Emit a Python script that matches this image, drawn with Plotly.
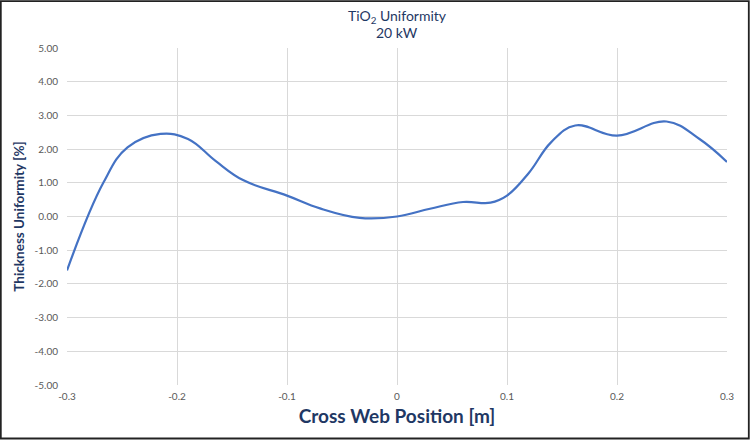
import plotly.graph_objects as go

# Values
x_pos = [-0.300, -0.267, -0.245, -0.215, -0.190, -0.165, -0.140, -0.100, -0.070,
         -0.034, 0.000, 0.030, 0.060, 0.085, 0.100, 0.120, 0.140, 0.162, 0.200,
         0.245, 0.275, 0.300]
uniformity = [-1.60, 1.00, 2.05, 2.45, 2.30, 1.65, 1.08, 0.62, 0.24,
              -0.04, 0.00, 0.23, 0.43, 0.41, 0.62, 1.30, 2.20, 2.70, 2.40,
              2.82, 2.30, 1.62]

x_ticks = [-0.3, -0.2, -0.1, 0, 0.1, 0.2, 0.3]
x_tick_text = ["-0.3", "-0.2", "-0.1", "0", "0.1", "0.2", "0.3"]
y_ticks = [5, 4, 3, 2, 1, 0, -1, -2, -3, -4, -5]
y_tick_text = ["5.00", "4.00", "3.00", "2.00", "1.00", "0.00",
               "-1.00", "-2.00", "-3.00", "-4.00", "-5.00"]

navy = "#1F3864"
font_family = "Lato, Open Sans, sans-serif"

fig = go.Figure()
fig.add_trace(go.Scatter(
    x=x_pos, y=uniformity, mode="lines",
    line=dict(color="#4472C4", width=2.2, shape="spline", smoothing=1.15),
    hoverinfo="x+y", showlegend=False,
))

W, H = 750, 440
ml, mr, mt, mb = 67, 23, 48, 55
pw, ph = W - ml - mr, H - mt - mb


def py(pix):
    """pixel row -> paper y"""
    return (H - mb - pix) / ph


fig.update_layout(
    width=W, height=H,
    margin=dict(l=ml, r=mr, t=mt, b=mb),
    paper_bgcolor="white", plot_bgcolor="white",
    font=dict(family=font_family, color="#595959"),
    xaxis=dict(
        range=[-0.3, 0.3], tickvals=x_ticks, ticktext=x_tick_text,
        showgrid=True, gridcolor="#D9D9D9", gridwidth=1,
        zeroline=False, showline=False,
        tickfont=dict(size=10, color="#595959"),
        ticks="", ticklabelstandoff=4,
        title=dict(text="<b>Cross Web Position [m]</b>",
                   font=dict(size=19, color=navy, family=font_family),
                   standoff=8),
    ),
    yaxis=dict(
        range=[-5, 5], tickvals=y_ticks, ticktext=y_tick_text,
        showgrid=True, gridcolor="#D9D9D9", gridwidth=1,
        zeroline=False, showline=False,
        tickfont=dict(size=10, color="#595959"),
        ticks="", ticklabelstandoff=8,
        title=dict(text="<b>Thickness Uniformity [%]</b>",
                   font=dict(size=13.5, color=navy, family=font_family),
                   standoff=6),
    ),
    annotations=[
        dict(text="TiO<sub>2</sub> Uniformity", xref="paper", yref="paper",
             x=0.5, y=py(16), xanchor="center", yanchor="middle",
             showarrow=False, font=dict(size=14, color=navy, family=font_family)),
        dict(text="20 kW", xref="paper", yref="paper",
             x=0.5, y=py(33), xanchor="center", yanchor="middle",
             showarrow=False, font=dict(size=14, color=navy, family=font_family)),
    ],
    shapes=[dict(
        type="rect", xref="paper", yref="paper",
        x0=(0.8 - ml) / pw, x1=(W - 1.2 - ml) / pw,
        y0=py(H - 1.5), y1=py(1.2),
        line=dict(color="#222222", width=1.8), fillcolor="rgba(0,0,0,0)",
        layer="above",
    )],
)

fig.write_html("out.html")
